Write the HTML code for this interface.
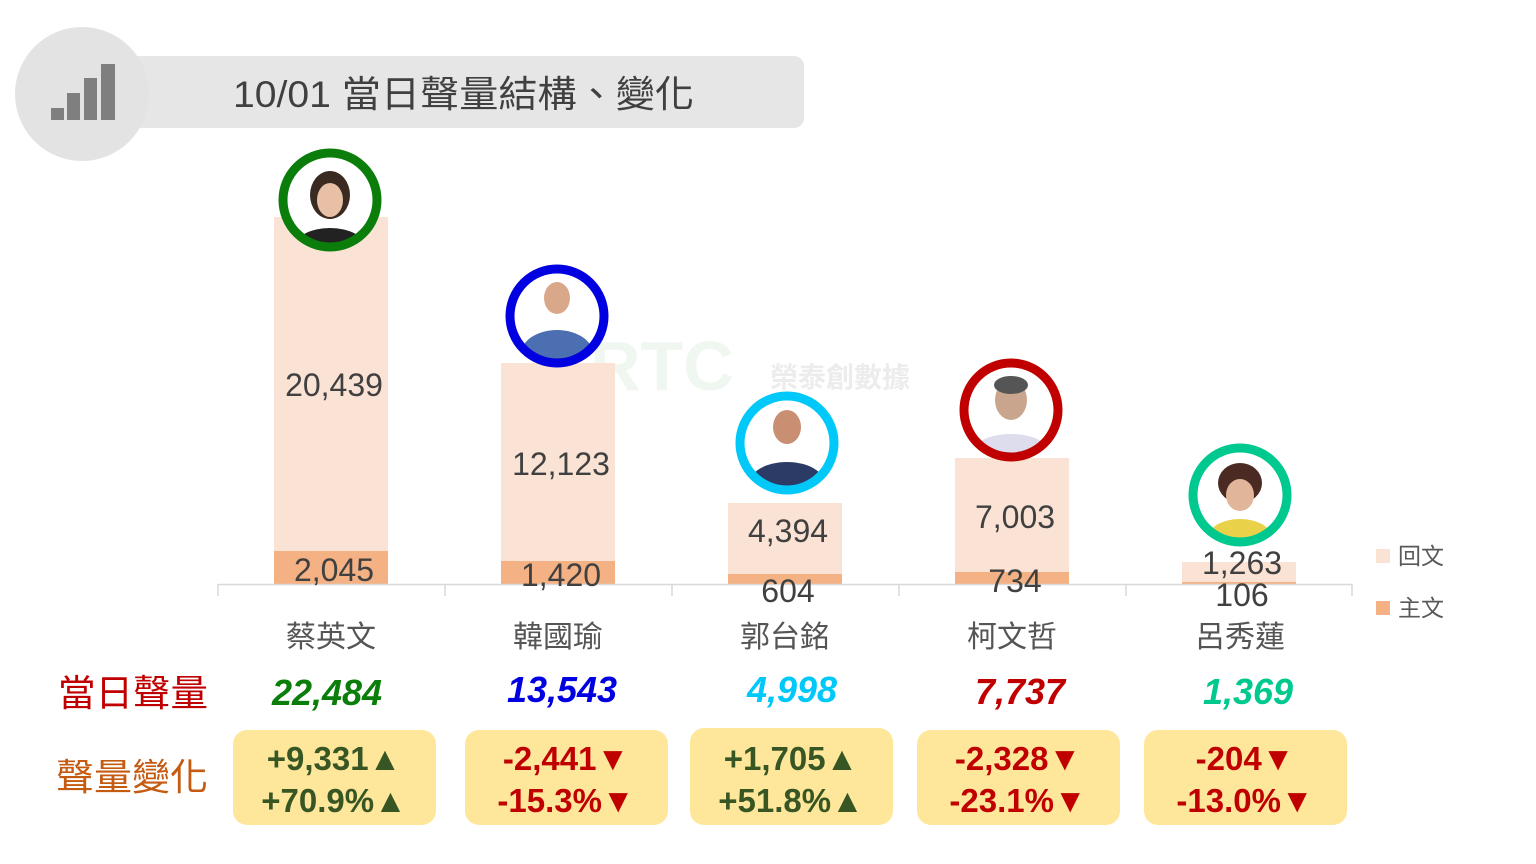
<!DOCTYPE html>
<html><head><meta charset="utf-8"><style>
body{margin:0;background:#fff;}
svg{display:block}
text{font-family:"Liberation Sans","Noto Sans CJK TC",sans-serif;}
</style></head><body>
<svg width="1536" height="864" viewBox="0 0 1536 864">
<rect x="82" y="56" width="722" height="72" rx="10" fill="#e6e6e6"/>
<circle cx="82" cy="94" r="67" fill="#e3e3e3"/>
<rect x="51" y="108" width="13" height="12" fill="#7f7f7f"/>
<rect x="67" y="93" width="13" height="27" fill="#7f7f7f"/>
<rect x="84" y="78" width="13" height="42" fill="#7f7f7f"/>
<rect x="101" y="64" width="14" height="56" fill="#7f7f7f"/>
<text x="233" y="107" font-size="37" fill="#404040" textLength="461" lengthAdjust="spacingAndGlyphs">10/01 當日聲量結構、變化</text>
<text x="590" y="390" font-size="70" fill="#f0f7f0" font-weight="bold">RTC</text>
<text x="770" y="387" font-size="28" fill="#ececec" font-weight="bold">榮泰創數據</text>
<g fill="#fae3d5">
<rect x="274" y="217" width="114" height="367"/>
<rect x="501" y="363" width="114" height="221"/>
<rect x="728" y="503" width="114" height="81"/>
<rect x="955" y="458" width="114" height="126"/>
<rect x="1182" y="562" width="114" height="22"/>
</g>
<g fill="#f4b183">
<rect x="274" y="551" width="114" height="33"/>
<rect x="501" y="561" width="114" height="23"/>
<rect x="728" y="574" width="114" height="10"/>
<rect x="955" y="572" width="114" height="12"/>
<rect x="1182" y="582" width="114" height="2"/>
</g>
<g stroke="#d9d9d9" stroke-width="1.5">
<line x1="218" y1="584.5" x2="1352" y2="584.5"/>
<line x1="218" y1="584" x2="218" y2="596"/>
<line x1="445" y1="584" x2="445" y2="596"/>
<line x1="672" y1="584" x2="672" y2="596"/>
<line x1="899" y1="584" x2="899" y2="596"/>
<line x1="1126" y1="584" x2="1126" y2="596"/>
<line x1="1352" y1="584" x2="1352" y2="596"/>
</g>
<g font-size="32" fill="#404040" text-anchor="middle">
<text x="334" y="396">20,439</text>
<text x="334" y="581">2,045</text>
<text x="561" y="475">12,123</text>
<text x="561" y="586">1,420</text>
<text x="788" y="542">4,394</text>
<text x="788" y="602">604</text>
<text x="1015" y="528">7,003</text>
<text x="1015" y="592">734</text>
<text x="1242" y="574">1,263</text>
<text x="1242" y="606">106</text>
</g>
<rect x="1376" y="549" width="14" height="14" fill="#fae3d5"/>
<text x="1398" y="564" font-size="23" fill="#595959">回文</text>
<rect x="1376" y="601" width="14" height="14" fill="#f4b183"/>
<text x="1398" y="616" font-size="23" fill="#595959">主文</text>
<defs>
<clipPath id="c1"><circle cx="330" cy="200" r="46"/></clipPath>
<clipPath id="c2"><circle cx="557" cy="316" r="46"/></clipPath>
<clipPath id="c3"><circle cx="787" cy="443" r="46"/></clipPath>
<clipPath id="c4"><circle cx="1011" cy="410" r="46"/></clipPath>
<clipPath id="c5"><circle cx="1240" cy="495" r="46"/></clipPath>
</defs>
<g clip-path="url(#c1)"><rect x="280" y="150" width="100" height="100" fill="#fff"/><ellipse cx="330" cy="195" rx="20" ry="24" fill="#3a2a22"/><ellipse cx="330" cy="200" rx="13" ry="17" fill="#e8c0a5"/><ellipse cx="330" cy="248" rx="36" ry="20" fill="#222"/></g>
<circle cx="330" cy="200" r="47" fill="none" stroke="#0a7d0a" stroke-width="9"/>
<g clip-path="url(#c2)"><rect x="507" y="266" width="100" height="100" fill="#fff"/><ellipse cx="557" cy="298" rx="13" ry="16" fill="#d9a88a"/><ellipse cx="557" cy="354" rx="36" ry="24" fill="#4b6fb0"/></g>
<circle cx="557" cy="316" r="47" fill="none" stroke="#0000e0" stroke-width="9"/>
<g clip-path="url(#c3)"><rect x="737" y="393" width="100" height="100" fill="#fff"/><ellipse cx="787" cy="427" rx="14" ry="17" fill="#c98f72"/><ellipse cx="787" cy="484" rx="38" ry="22" fill="#2c3a66"/></g>
<circle cx="787" cy="443" r="47" fill="none" stroke="#00c8f8" stroke-width="9"/>
<g clip-path="url(#c4)"><rect x="961" y="360" width="100" height="100" fill="#fff"/><ellipse cx="1011" cy="400" rx="16" ry="20" fill="#caa58e"/><ellipse cx="1011" cy="385" rx="17" ry="9" fill="#555"/><ellipse cx="1011" cy="450" rx="36" ry="16" fill="#dde"/></g>
<circle cx="1011" cy="410" r="47" fill="none" stroke="#c00000" stroke-width="9"/>
<g clip-path="url(#c5)"><rect x="1190" y="445" width="100" height="100" fill="#fff"/><ellipse cx="1240" cy="483" rx="22" ry="20" fill="#4a2a22"/><ellipse cx="1240" cy="495" rx="14" ry="16" fill="#e0b59a"/><ellipse cx="1240" cy="535" rx="30" ry="16" fill="#e9d24a"/></g>
<circle cx="1240" cy="495" r="47" fill="none" stroke="#00c98f" stroke-width="9"/>
<g font-size="30" fill="#555" text-anchor="middle">
<text x="331" y="647">蔡英文</text>
<text x="558" y="647">韓國瑜</text>
<text x="785" y="647">郭台銘</text>
<text x="1012" y="647">柯文哲</text>
<text x="1240" y="647">呂秀蓮</text>
</g>
<g font-size="36" font-weight="bold" font-style="italic" text-anchor="middle">
<text x="327" y="705" fill="#0a7d0a">22,484</text>
<text x="562" y="702" fill="#0000e0">13,543</text>
<text x="792" y="702" fill="#00c8f8">4,998</text>
<text x="1020" y="704" fill="#c00000">7,737</text>
<text x="1248" y="704" fill="#00c98f">1,369</text>
</g>
<text x="58" y="706" font-size="37" fill="#c00000" textLength="150" lengthAdjust="spacingAndGlyphs">當日聲量</text>
<text x="56" y="790" font-size="37" fill="#c55a11" textLength="152" lengthAdjust="spacingAndGlyphs">聲量變化</text>
<g fill="#fee79b">
<rect x="233" y="730" width="203" height="95" rx="14"/>
<rect x="465" y="730" width="203" height="95" rx="14"/>
<rect x="690" y="728" width="203" height="97" rx="14"/>
<rect x="917" y="730" width="203" height="95" rx="14"/>
<rect x="1144" y="730" width="203" height="95" rx="14"/>
</g>
<g font-size="33" font-weight="bold" text-anchor="middle">
<text x="334" y="770" fill="#375623">+9,331▲</text>
<text x="334" y="812" fill="#375623">+70.9%▲</text>
<text x="566" y="770" fill="#c00000">-2,441▼</text>
<text x="566" y="812" fill="#c00000">-15.3%▼</text>
<text x="791" y="770" fill="#375623">+1,705▲</text>
<text x="791" y="812" fill="#375623">+51.8%▲</text>
<text x="1018" y="770" fill="#c00000">-2,328▼</text>
<text x="1018" y="812" fill="#c00000">-23.1%▼</text>
<text x="1245" y="770" fill="#c00000">-204▼</text>
<text x="1245" y="812" fill="#c00000">-13.0%▼</text>
</g>
</svg>
</body></html>
